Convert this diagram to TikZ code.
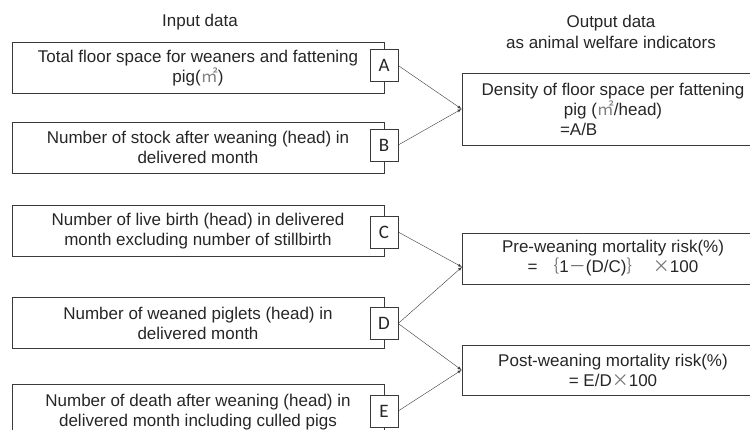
\documentclass[tikz,border=0pt]{standalone}
\usepackage{fontspec}
\setmainfont{Liberation Sans}
\newfontfamily\cjk{Noto Sans CJK JP}
\newfontfamily\letterfont{Carlito}
\definecolor{ink}{HTML}{262626}
\definecolor{edge}{HTML}{3A3A3A}
\newcommand{\sqm}{{\cjk\color{gray}㎡}}
\newcommand{\cjkgray}[1]{{\cjk\color{ink!65}#1}}
\begin{document}
\begin{tikzpicture}[>=latex, x=1pt, y=-1pt,
  every node/.style={text=ink, font=\fontsize{17}{20}\selectfont},
  inbox/.style={draw=edge, thick, minimum width=372pt, minimum height=51pt, align=center, inner sep=0pt},
  outbox/.style={draw=edge, thick, minimum width=302pt, align=center, inner sep=0pt},
  letter/.style={draw=edge, fill=white, minimum width=28pt, minimum height=32pt, inner sep=0pt,
    font=\letterfont\fontsize{19}{20}\selectfont},
  link/.style={->, draw=edge}]
\path[use as bounding box, clip] (0,0) rectangle (750,429);
\node (intitle) at (200,22) {Input data};
\node[align=center, font=\fontsize{17}{21}\selectfont] (outtitle) at (611,32) {Output data\\as animal welfare indicators};
\node[inbox] (inA) at (198,68) {Total floor space for weaners and fattening\\pig(\sqm)};
\node[inbox] (inB) at (198,147.5) {Number of stock after weaning (head) in\\delivered month};
\node[inbox] (inC) at (198,231) {Number of live birth (head) in delivered\\month excluding number of stillbirth};
\node[inbox] (inD) at (198,323) {Number of weaned piglets (head) in\\delivered month};
\node[inbox, minimum height=56pt] (inE) at (198,412) {Number of death after weaning (head) in\\delivered month including culled pigs};
\node[letter] (A) at (384,65.5) {A};
\node[letter] (B) at (384,145) {B};
\node[letter] (C) at (384,232) {C};
\node[letter] (D) at (384,323.5) {D};
\node[letter] (E) at (384,411) {E};
\node[outbox, minimum height=72pt] (density) at (613,109) {Density of floor space per fattening\\pig (\sqm/head)\\\makebox[106pt][l]{=A/B}};
\node[outbox, minimum height=51pt] (pre) at (613,258.5) {Pre-weaning mortality risk(\%)\\= \cjkgray{｛}1\cjkgray{－}(D/C)\cjkgray{｝}\ \ \cjkgray{×}100};
\node[outbox, minimum height=50pt] (post) at (613,370) {Post-weaning mortality risk(\%)\\= E/D\cjkgray{×}100};
\coordinate (prein) at (462,267);
\draw[link] (A.east) -- (density.west);
\draw[link] (B.east) -- (density.west);
\draw[link] (C.east) -- (prein);
\draw[link] (D.east) -- (prein);
\draw[link] (D.east) -- (post.west);
\draw[link] (E.east) -- (post.west);
\end{tikzpicture}
\end{document}
